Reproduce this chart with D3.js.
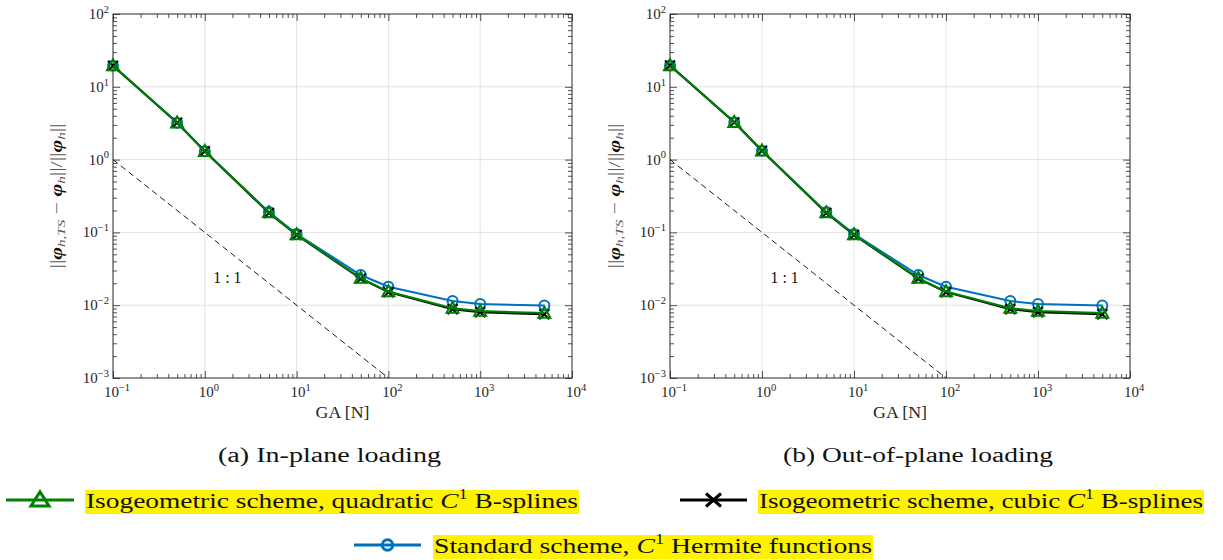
<!DOCTYPE html>
<html>
<head>
<meta charset="utf-8">
<script src="https://cdn.jsdelivr.net/npm/d3@7"></script>
<style>
  html, body { margin: 0; padding: 0; background: #fff; }
  svg { display: block; }
  text { font-family: "Liberation Serif", "DejaVu Serif", serif; }
</style>
</head>
<body>
<svg id="chart" width="1223" height="560"></svg>
<script>
// ---------------- data ----------------
const GA = [0.1, 0.5, 1, 5, 10, 50, 100, 500, 1000, 5000];

const inPlaneQuadratic = [19.5, 3.2, 1.3, 0.187, 0.093, 0.0235, 0.0154, 0.0091, 0.0083, 0.0078];
const inPlaneCubic     = [19.5, 3.2, 1.3, 0.185, 0.092, 0.0232, 0.0151, 0.0088, 0.0080, 0.0075];
const inPlaneHermite   = [19.5, 3.2, 1.3, 0.190, 0.095, 0.0260, 0.0179, 0.0114, 0.0104, 0.0099];

const outPlaneQuadratic = [19.6, 3.25, 1.32, 0.187, 0.093, 0.0235, 0.0154, 0.0091, 0.0083, 0.0078];
const outPlaneCubic     = [19.6, 3.25, 1.32, 0.185, 0.092, 0.0232, 0.0151, 0.0088, 0.0080, 0.0075];
const outPlaneHermite   = [19.6, 3.25, 1.32, 0.190, 0.095, 0.0260, 0.0179, 0.0114, 0.0104, 0.0099];

const refX = [0.1, 100];
const refY = [1, 0.001];

const xTickExps = [-1, 0, 1, 2, 3, 4];
const yTickExps = [-3, -2, -1, 0, 1, 2];

const captions = ["(a) In-plane loading", "(b) Out-of-plane loading"];
const xLabel = "GA [N]";

const COLORS = { quad: "#008000", cubic: "#000000", herm: "#0072BD" };

// ---------------- drawing ----------------
const svg = d3.select("#chart");

const panels = [
  { x0: 113, x1: 572, y0: 14, y1: 378, quad: inPlaneQuadratic, cubic: inPlaneCubic, herm: inPlaneHermite,
    cap: captions[0], capX: 329.5, capW: 223, ylabX: 62 },
  { x0: 670, x1: 1130, y0: 14, y1: 378, quad: outPlaneQuadratic, cubic: outPlaneCubic, herm: outPlaneHermite,
    cap: captions[1], capX: 918, capW: 270, ylabX: 620 }
];

function trianglePath(w, h) { return `M0,${-h*0.58}L${w/2},${h*0.42}L${-w/2},${h*0.42}Z`; }
function crossPath(w, h) { return `M${-w/2},${-h/2}L${w/2},${h/2}M${-w/2},${h/2}L${w/2},${-h/2}`; }

function drawMarker(g, type, x, y, big) {
  const sw = big ? 3 : 2;
  if (type === "quad") {
    g.append("path").attr("d", big ? trianglePath(18, 14) : trianglePath(12, 11))
      .attr("transform", `translate(${x},${y})`)
      .attr("fill", "none").attr("stroke", COLORS.quad).attr("stroke-width", sw);
  } else if (type === "cubic") {
    g.append("path").attr("d", big ? crossPath(15, 13) : crossPath(10, 10))
      .attr("transform", `translate(${x},${y})`)
      .attr("fill", "none").attr("stroke", COLORS.cubic).attr("stroke-width", sw);
  } else {
    g.append("circle").attr("cx", x).attr("cy", y).attr("r", big ? 5.2 : 5)
      .attr("fill", "none").attr("stroke", COLORS.herm).attr("stroke-width", sw);
  }
}

function powLabel(sel, exp, baseSize, supSize) {
  sel.append("tspan").text("10");
  sel.append("tspan").attr("dy", -baseSize * 0.42).attr("font-size", supSize)
    .text(exp < 0 ? "\u2212" + Math.abs(exp) : String(exp));
}

panels.forEach(p => {
  const x = d3.scaleLog().domain([0.1, 1e4]).range([p.x0, p.x1]);
  const y = d3.scaleLog().domain([1e-3, 1e2]).range([p.y1, p.y0]);
  const g = svg.append("g");

  // grid
  const majorX = xTickExps.map(e => Math.pow(10, e));
  const majorY = yTickExps.map(e => Math.pow(10, e));
  g.append("g").selectAll("line").data(majorX.slice(1, -1)).join("line")
    .attr("x1", d => x(d)).attr("x2", d => x(d)).attr("y1", p.y0).attr("y2", p.y1)
    .attr("stroke", "#e2e2e2").attr("stroke-width", 1);
  g.append("g").selectAll("line").data(majorY.slice(1, -1)).join("line")
    .attr("y1", d => y(d)).attr("y2", d => y(d)).attr("x1", p.x0).attr("x2", p.x1)
    .attr("stroke", "#e2e2e2").attr("stroke-width", 1);

  // ticks via d3 axes (inward)
  const minorX = x.ticks().filter(d => !majorX.some(m => Math.abs(m - d) / m < 1e-9));
  const minorY = y.ticks().filter(d => !majorY.some(m => Math.abs(m - d) / m < 1e-9));

  const axisCol = "#262626";
  const mk = (axisFn, scale, vals, size, tr) => {
    const a = g.append("g").attr("transform", tr)
      .call(axisFn(scale).tickValues(vals).tickSize(size).tickFormat(""));
    a.select(".domain").remove();
    a.selectAll("line").attr("stroke", axisCol).attr("stroke-width", 0.8);
  };
  mk(d3.axisTop, x, majorX, 7, `translate(0,${p.y1})`);
  mk(d3.axisTop, x, minorX, 4, `translate(0,${p.y1})`);
  mk(d3.axisBottom, x, majorX, 7, `translate(0,${p.y0})`);
  mk(d3.axisBottom, x, minorX, 4, `translate(0,${p.y0})`);
  mk(d3.axisRight, y, majorY, 7, `translate(${p.x0},0)`);
  mk(d3.axisRight, y, minorY, 4, `translate(${p.x0},0)`);
  mk(d3.axisLeft, y, majorY, 7, `translate(${p.x1},0)`);
  mk(d3.axisLeft, y, minorY, 4, `translate(${p.x1},0)`);

  g.append("rect").attr("x", p.x0).attr("y", p.y0).attr("width", p.x1 - p.x0).attr("height", p.y1 - p.y0)
    .attr("fill", "none").attr("stroke", axisCol).attr("stroke-width", 1);

  // tick labels
  xTickExps.forEach(e => {
    const t = g.append("text").attr("x", x(Math.pow(10, e)) + 4).attr("y", p.y1 + 19)
      .attr("text-anchor", "middle").attr("font-size", 15).attr("fill", axisCol);
    powLabel(t, e, 15, 10.5);
  });
  yTickExps.forEach(e => {
    const t = g.append("text").attr("x", p.x0 - 4).attr("y", y(Math.pow(10, e)) + 5)
      .attr("text-anchor", "end").attr("font-size", 15).attr("fill", axisCol);
    powLabel(t, e, 15, 10.5);
  });

  // axis labels
  g.append("text").attr("x", (p.x0 + p.x1) / 2).attr("y", p.y1 + 40)
    .attr("text-anchor", "middle").attr("font-size", 16).attr("fill", axisCol)
    .attr("textLength", 54).attr("lengthAdjust", "spacingAndGlyphs").text(xLabel);

  const yl = g.append("text").attr("transform", `translate(${p.ylabX},${(p.y0 + p.y1) / 2}) rotate(-90)`)
    .attr("text-anchor", "middle").attr("font-size", 16).attr("fill", "#555")
    .attr("textLength", 145).attr("lengthAdjust", "spacingAndGlyphs");
  yl.append("tspan").text("||");
  yl.append("tspan").attr("font-weight", "bold").attr("font-style", "italic").attr("fill", "#111").text("\u03C6");
  yl.append("tspan").attr("font-size", 11).attr("font-style", "italic").attr("dy", 3).text("h,TS");
  yl.append("tspan").attr("dy", -3).text(" \u2212 ");
  yl.append("tspan").attr("font-weight", "bold").attr("font-style", "italic").attr("fill", "#111").text("\u03C6");
  yl.append("tspan").attr("font-size", 11).attr("font-style", "italic").attr("dy", 3).text("h");
  yl.append("tspan").attr("dy", -3).text("||/||");
  yl.append("tspan").attr("font-weight", "bold").attr("font-style", "italic").attr("fill", "#111").text("\u03C6");
  yl.append("tspan").attr("font-size", 11).attr("font-style", "italic").attr("dy", 3).text("h");
  yl.append("tspan").attr("dy", -3).text("||");

  // reference line
  const line = d3.line().x(d => x(d[0])).y(d => y(d[1]));
  g.append("path").attr("d", line(refX.map((v, i) => [v, refY[i]])))
    .attr("fill", "none").attr("stroke", "#000").attr("stroke-width", 0.9).attr("stroke-dasharray", "6,4");
  g.append("text").attr("x", x(1.76)).attr("y", y(0.024) + 5)
    .attr("text-anchor", "middle").attr("font-size", 16).attr("fill", "#111")
    .attr("textLength", 28).attr("lengthAdjust", "spacingAndGlyphs").text("1 : 1");

  // series: blue (bottom), black, green (top)
  [["herm", p.herm], ["cubic", p.cubic], ["quad", p.quad]].forEach(([k, vals]) => {
    const pts = GA.map((v, i) => [v, vals[i]]);
    g.append("path").attr("d", line(pts)).attr("fill", "none")
      .attr("stroke", COLORS[k]).attr("stroke-width", 2);
    const mg = g.append("g");
    pts.forEach(d => drawMarker(mg, k, x(d[0]), y(d[1]), false));
  });

  // caption
  g.append("text").attr("x", p.capX).attr("y", 462)
    .attr("text-anchor", "middle").attr("font-size", 20).attr("fill", "#111")
    .attr("textLength", p.capW).attr("lengthAdjust", "spacingAndGlyphs").text(p.cap);
});

// ---------------- legend ----------------
const legendItems = [
  { key: "quad", pre: "Isogeometric scheme, quadratic ", post: " B-splines", lx0: 6, lx1: 74, tx: 85, tw: 494, cy: 500 },
  { key: "cubic", pre: "Isogeometric scheme, cubic ", post: " B-splines", lx0: 680, lx1: 747, tx: 758, tw: 446, cy: 500 },
  { key: "herm", pre: "Standard scheme, ", post: " Hermite functions", lx0: 354, lx1: 421, tx: 433, tw: 440, cy: 545 }
];
const lg = svg.append("g");
legendItems.forEach(it => {
  lg.append("rect").attr("x", it.tx).attr("y", it.cy - 10).attr("width", it.tw).attr("height", 24)
    .attr("fill", "#fff200");
  lg.append("line").attr("x1", it.lx0).attr("x2", it.lx1).attr("y1", it.cy).attr("y2", it.cy)
    .attr("stroke", COLORS[it.key]).attr("stroke-width", 3);
  drawMarker(lg, it.key, (it.lx0 + it.lx1) / 2, it.cy, true);
  const t = lg.append("text").attr("x", it.tx + 1).attr("y", it.cy + 8)
    .attr("font-size", 21).attr("fill", "#111")
    .attr("textLength", it.tw - 2).attr("lengthAdjust", "spacingAndGlyphs");
  t.append("tspan").text(it.pre);
  t.append("tspan").attr("font-style", "italic").text("C");
  t.append("tspan").attr("font-size", 14).attr("dy", -9).text("1");
  t.append("tspan").attr("dy", 9).text(it.post);
});
</script>
</body>
</html>
